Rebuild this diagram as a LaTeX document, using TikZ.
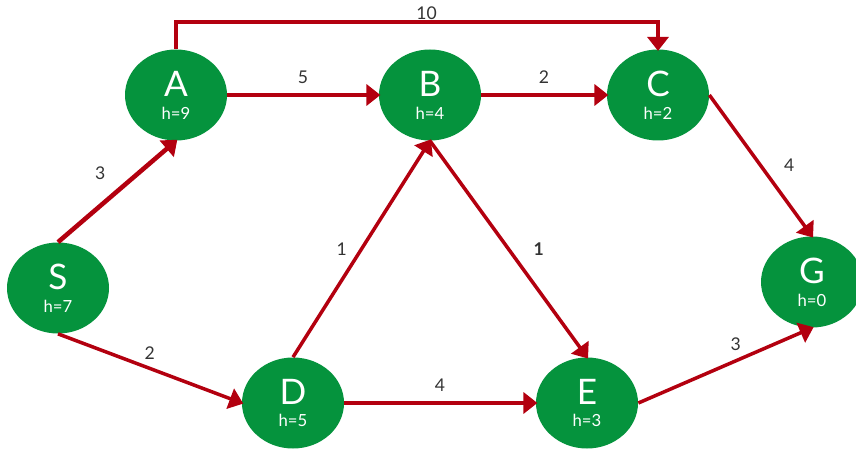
\documentclass[tikz,border=0pt]{standalone}
\usepackage{fontspec}
\setmainfont{Lato}
\usepackage{xcolor}
\usetikzlibrary{shapes.geometric,arrows.meta}
\definecolor{nodegreen}{HTML}{05933D}
\definecolor{edgered}{HTML}{B3000F}
\definecolor{wgray}{HTML}{333333}
\newcommand{\hnode}[2]{{\fontsize{20}{20}\selectfont #1}\\[1pt]{\fontsize{9.5}{10}\selectfont h=#2}}

\begin{document}
\begin{tikzpicture}[
    state/.style={ellipse, fill=nodegreen, text=white, minimum width=2.04cm, minimum height=1.82cm, inner sep=0pt, align=center},
    edge/.style={edgered, line width=2pt, -{Triangle[length=2.8mm,width=4.2mm]}, shorten >=-1pt},
    heavy/.style={line width=2.6pt},
    weight/.style={text=wgray, font=\fontsize{10}{10}\selectfont}
    ]
    \useasboundingbox (0,0) rectangle (17.12,9);
    % 绘制节点
    \node[state] (A) at (3.52,7.10) {\hnode{A}{9}};
    \node[state] (B) at (8.60,7.10) {\hnode{B}{4}};
    \node[state] (C) at (13.16,7.10) {\hnode{C}{2}};
    \node[state] (S) at (1.16,3.24) {\hnode{S}{7}};
    \node[state] (D) at (5.86,0.94) {\hnode{D}{5}};
    \node[state] (E) at (11.74,0.94) {\hnode{E}{3}};
    \node[state] (G) at (16.24,3.36) {\hnode{G}{0}};
    % 绘制箭头
    \draw[edge] (A.north) -- ++(0,0.54) -| (C.north) node[weight, pos=0.26, above=-3pt] (wAC) {10};
    \draw[edge, heavy] (A) -- (B) node[weight, midway, above=2pt] (wAB) {5};
    \draw[edge] (B) -- (C) node[weight, midway, above=2pt] (wBC) {2};
    \draw[edge, heavy] (S.north) -- (A.south) node[weight, midway, above left=2pt] (wSA) {3};
    \draw[edge] (S.south) -- (D.west) node[weight, midway, above=1pt] (wSD) {2};
    \draw[edge] (D.north) -- (B.south) node[weight, midway, left=4pt] (wDB) {1};
    \draw[edge] (B.south) -- (E.north) node[weight, midway, right=10pt] (wBE) {\textbf{1}};
    \draw[edge, heavy] (D) -- (E) node[weight, midway, above=2pt] (wDE) {4};
    \draw[edge] (C.east) -- (G.north) node[weight, midway, right=9pt] (wCG) {4};
    \draw[edge] (E.east) -- (G.south) node[weight, midway, above=4pt, xshift=6pt] (wEG) {3};
\end{tikzpicture}
\end{document}
